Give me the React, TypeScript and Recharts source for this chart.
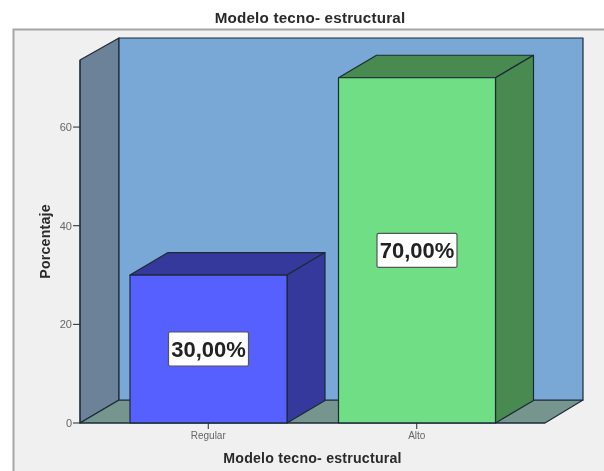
import React from "react";
import { BarChart, Bar, XAxis, YAxis, LabelList } from "recharts";

const categories = ["Regular", "Alto"];
const percentages = [30, 70];
const valueLabels = ["30,00%", "70,00%"];
const yTicks = [0, 20, 40, 60];
const frontColors = ["#5560ff", "#70de84"];
const sideColors = ["#36399c", "#488a50"];

const chartTitle = "Modelo tecno- estructural";
const xTitle = "Modelo tecno- estructural";
const yTitle = "Porcentaje";

const rows = categories.map((name, i) => ({
  name,
  value: percentages[i],
  label: valueLabels[i],
  front: frontColors[i],
  side: sideColors[i],
}));

const DX = 38;
const DY = 22.5;
const EDGE = "#1c2a38";
const FONT = "'Liberation Sans', Arial, sans-serif";

function Bar3D(props: any) {
  const { x, y, width, height, payload } = props;
  const r = x + width;
  const b = y + height;
  return (
    <g stroke={EDGE} strokeWidth={1.2} strokeLinejoin="round">
      <polygon fill={payload.side} points={`${x},${y} ${x + DX},${y - DY} ${r + DX},${y - DY} ${r},${y}`} />
      <polygon fill={payload.side} points={`${r},${y} ${r + DX},${y - DY} ${r + DX},${b - DY} ${r},${b}`} />
      <rect x={x} y={y} width={width} height={height} fill={payload.front} />
    </g>
  );
}

function ValueBox(props: any) {
  const { x, y, width, height, value } = props;
  const cx = x + width / 2;
  const cy = y + height / 2;
  return (
    <g>
      <rect x={cx - 40} y={cy - 17} width={80} height={34} rx={1.5} fill="#ffffff" stroke="#555555" strokeWidth={1.2} />
      <text x={cx} y={cy + 8} textAnchor="middle" fontFamily={FONT} fontWeight={700} fontSize={22} fill="#222222">
        {value}
      </text>
    </g>
  );
}

export default function App() {
  return (
    <div style={{ position: "absolute", left: 0, top: 0, width: 604, height: 471, background: "#fff", overflow: "hidden" }}>
      <div style={{ position: "absolute", left: 0, top: 0, width: 604, height: 471, filter: "blur(0.6px)" }}>
        <svg width={604} height={471} style={{ position: "absolute", left: 0, top: 0 }}>
          <rect x={13.5} y={29.5} width={600} height={460} fill="#f0f0f0" stroke="#a6a6a6" strokeWidth={2} />
          <text x={310} y={22.5} textAnchor="middle" fontFamily={FONT} fontWeight={700} fontSize={15.2} letterSpacing={0.2} fill="#2a2a2a">
            {chartTitle}
          </text>
          <g stroke={EDGE} strokeWidth={1.2} strokeLinejoin="round">
            <polygon fill="#6b8299" points="80,60 119,38 119,400 80,423" />
            <polygon fill="#76958f" points="80,423 119,400 583,400 545,423" />
            <rect x={119} y={38} width={464} height={362} fill="#7aa8d6" />
          </g>
        </svg>
        <div style={{ position: "absolute", left: 0, top: 0 }}>
          <BarChart width={604} height={471} data={rows} margin={{ top: 60, right: 59, bottom: 0, left: 0 }}>
            <XAxis
              dataKey="name"
              height={48}
              padding={{ left: 24, right: 24 }}
              tickSize={6}
              tickMargin={3}
              interval={0}
              stroke={EDGE}
              tick={{ fontSize: 10, fontFamily: FONT, fill: "#666666" }}
              label={{ value: xTitle, position: "insideBottom", offset: 8, style: { fontSize: 14.2, letterSpacing: 0.2, fontWeight: 700, fontFamily: FONT, fill: "#2a2a2a" } }}
            />
            <YAxis
              width={80}
              domain={[0, 73.6]}
              ticks={yTicks}
              tickSize={7}
              tickMargin={1}
              stroke={EDGE}
              tick={{ fontSize: 11, fontFamily: FONT, fill: "#666666" }}
              label={{ value: yTitle, angle: -90, position: "insideLeft", offset: 45, style: { textAnchor: "middle", fontSize: 14.2, letterSpacing: 0.2, fontWeight: 700, fontFamily: FONT, fill: "#2a2a2a" } }}
            />
            <Bar dataKey="value" barSize={157} shape={Bar3D} isAnimationActive={false}>
              <LabelList dataKey="label" content={ValueBox} />
            </Bar>
          </BarChart>
        </div>
      </div>
    </div>
  );
}
